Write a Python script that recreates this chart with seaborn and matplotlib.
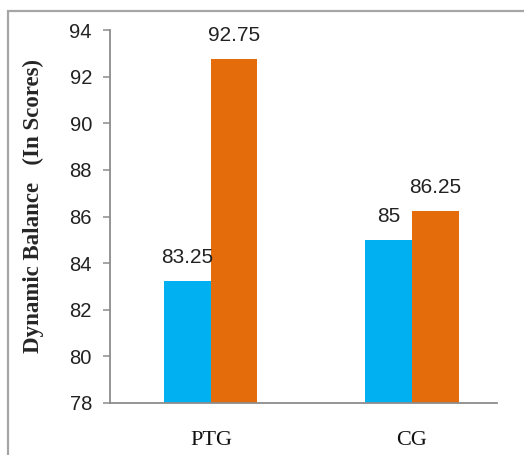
import numpy as np
import pandas as pd
import matplotlib
matplotlib.use('Agg')
import matplotlib.pyplot as plt
import seaborn as sns
from matplotlib.patches import Rectangle

# data
groups = ['PTG', 'CG']
tests = ['Pre-test', 'Post-test']
pre_scores = [83.25, 85]
post_scores = [92.75, 86.25]
y_ticks = [78, 80, 82, 84, 86, 88, 90, 92, 94]

df = pd.DataFrame({
    'group': groups * 2,
    'test': [tests[0]] * len(groups) + [tests[1]] * len(groups),
    'score': pre_scores + post_scores,
})

sns.set_style('white')
plt.rcParams['font.family'] = ['Liberation Serif', 'DejaVu Sans']

fig = plt.figure(figsize=(5.24, 4.55), dpi=100)
ax = fig.add_axes([110 / 524, 1 - 403 / 455, 387 / 524, 373 / 455])

# outer chart frame (top and left edges visible)
fig.patches.append(Rectangle((8 / 524, -0.1), 1.2, 1 - 11 / 455 + 0.1,
                             transform=fig.transFigure, fill=False,
                             edgecolor='#a6a6a6', linewidth=1.6))

sns.barplot(data=df, x='group', y='score', hue='test', order=groups,
            hue_order=tests, palette=['#00b0f0', '#e46c0a'], width=0.463,
            legend=False, ax=ax, saturation=1, errorbar=None, linewidth=0)

for cont in ax.containers:
    ax.bar_label(cont, fmt='%g', padding=10, fontsize=15,
                 family='Liberation Sans', color='#222222')

ax.set_ylim(78, 94)
ax.set_yticks(y_ticks)
ax.set_xlim(-0.502, 1.423)
ax.set_xlabel('')
ax.set_ylabel('Dynamic Balance   (In Scores)', fontsize=16.5,
              fontweight='bold')
ax.yaxis.set_label_coords(-0.17, 0.527)

for s in ['top', 'right']:
    ax.spines[s].set_visible(False)
for s in ['left', 'bottom']:
    ax.spines[s].set_color('#8c8c8c')
    ax.spines[s].set_linewidth(1.3)

ax.tick_params(axis='y', left=True, direction='out', length=5, width=1.1,
               color='#8c8c8c', labelsize=14.5, pad=8, labelcolor='#222222')
ax.tick_params(axis='x', bottom=False, length=0, labelsize=16, pad=20,
               labelcolor='#111111')
for lbl in ax.get_yticklabels():
    lbl.set_family('Liberation Sans')

fig.savefig('out.png', dpi=100, facecolor='white')
